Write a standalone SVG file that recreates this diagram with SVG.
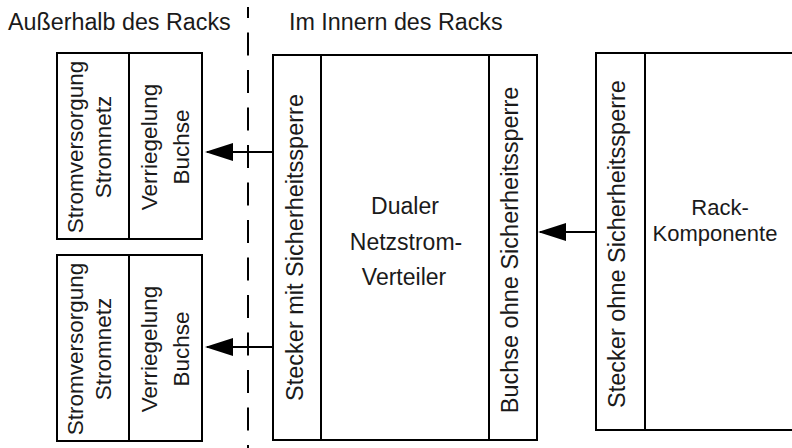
<svg xmlns="http://www.w3.org/2000/svg" width="792" height="448" viewBox="0 0 792 448">
<defs>
<style>
.box{fill:#fff;stroke:#000;stroke-width:2}
.div{stroke:#000;stroke-width:2}
.t{font-family:"Liberation Sans",Arial,sans-serif;fill:#1a1a1a;font-size:22.5px}
.v{text-anchor:middle}
.c{text-anchor:middle}
.conn{stroke:#000;stroke-width:2;fill:none}
.dash{stroke:#000;stroke-width:2;stroke-dasharray:23 14.5;fill:none}
</style>
<marker id="ah" markerUnits="userSpaceOnUse" markerWidth="30" markerHeight="20" refX="26" refY="9" orient="auto">
<path d="M0,0 L28,9 L0,18 z" fill="#000"/>
</marker>
</defs>
<rect width="792" height="448" fill="#fff"/>

<g id="labels">
<text class="t" style="font-size:23.3px" x="8" y="30">Außerhalb des Racks</text>
<text class="t" style="font-size:23.3px" x="289" y="30">Im Innern des Racks</text>
</g>

<g id="divider">
<line class="dash" x1="248" y1="7" x2="248" y2="448" stroke-dashoffset="12"/>
</g>

<g id="netz-oben">
<rect class="box" x="57" y="53" width="145" height="186"/>
<line class="div" x1="129" y1="53" x2="129" y2="239"/>
<text class="t v" transform="translate(83,147) rotate(-90)">Stromversorgung</text>
<text class="t v" transform="translate(111,147) rotate(-90)">Stromnetz</text>
<text class="t v" transform="translate(157,147) rotate(-90)">Verriegelung</text>
<text class="t v" transform="translate(189,147) rotate(-90)">Buchse</text>
</g>

<g id="netz-unten">
<rect class="box" x="57" y="255" width="145" height="186"/>
<line class="div" x1="129" y1="255" x2="129" y2="441"/>
<text class="t v" transform="translate(83,349) rotate(-90)">Stromversorgung</text>
<text class="t v" transform="translate(111,349) rotate(-90)">Stromnetz</text>
<text class="t v" transform="translate(157,349) rotate(-90)">Verriegelung</text>
<text class="t v" transform="translate(189,349) rotate(-90)">Buchse</text>
</g>

<g id="verteiler">
<rect class="box" x="273" y="55" width="264" height="385"/>
<line class="div" x1="321" y1="55" x2="321" y2="440"/>
<line class="div" x1="489" y1="55" x2="489" y2="440"/>
<text class="t v" style="font-size:23.5px" transform="translate(303,247.5) rotate(-90)">Stecker mit Sicherheitssperre</text>
<text class="t v" style="font-size:23.5px" transform="translate(518,250) rotate(-90)">Buchse ohne Sicherheitssperre</text>
<text class="t c" style="font-size:23px" x="405" y="214">Dualer</text>
<text class="t c" style="font-size:23px" x="406" y="250">Netzstrom-</text>
<text class="t c" style="font-size:23px" x="404" y="285">Verteiler</text>
</g>

<g id="komponente">
<rect class="box" x="596" y="53" width="210" height="377"/>
<line class="div" x1="645" y1="53" x2="645" y2="430"/>
<text class="t v" style="font-size:23.5px" transform="translate(625,244) rotate(-90)">Stecker ohne Sicherheitssperre</text>
<text class="t c" style="font-size:22px" x="720" y="215">Rack-</text>
<text class="t c" style="font-size:22px" x="715" y="241">Komponente</text>
</g>

<g id="connectors">
<line class="conn" x1="273" y1="152" x2="207" y2="152" marker-end="url(#ah)"/>
<line class="conn" x1="273" y1="347" x2="207" y2="347" marker-end="url(#ah)"/>
<line class="conn" x1="596" y1="232" x2="540" y2="232" marker-end="url(#ah)"/>
</g>
</svg>
